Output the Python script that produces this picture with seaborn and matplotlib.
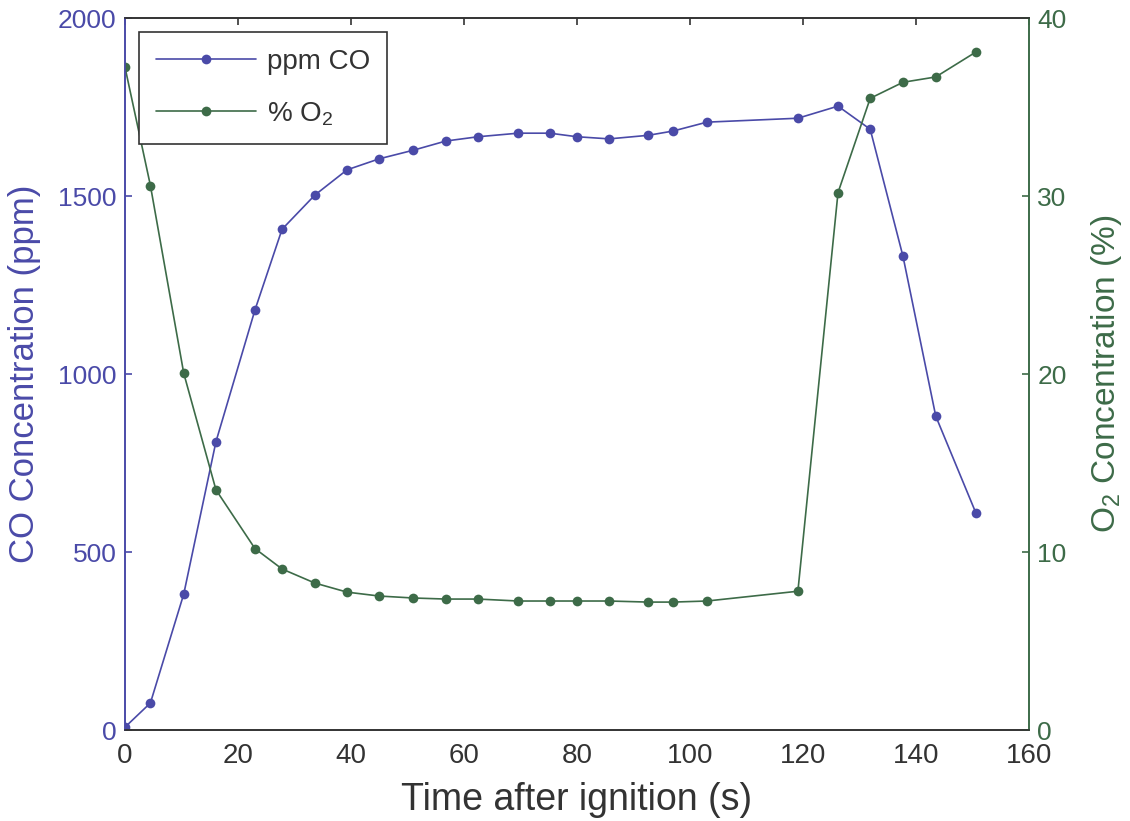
import matplotlib
matplotlib.use('Agg')
import matplotlib.pyplot as plt
import seaborn as sns
import pandas as pd

# data
time_s = [0, 4.5, 10.4, 16.1, 23.0, 27.8, 33.6, 39.3, 45.0, 51.0, 56.8, 62.5,
          69.6, 75.2, 80.0, 85.7, 92.6, 97.0, 103.0, 119.1, 126.2, 131.9,
          137.7, 143.5, 150.6]
co_ppm = [8, 76, 382, 810, 1180, 1407, 1503, 1574, 1605, 1629, 1655, 1667,
          1677, 1677, 1667, 1661, 1671, 1683, 1708, 1719, 1753, 1688,
          1331, 882, 610]
o2_pct = [37.25, 30.6, 20.05, 13.5, 10.2, 9.05, 8.26, 7.75, 7.53, 7.42, 7.36,
          7.36, 7.25, 7.25, 7.25, 7.25, 7.19, 7.19, 7.25, 7.8, 30.2, 35.5,
          36.4, 36.7, 38.1]

x_ticks = [0, 20, 40, 60, 80, 100, 120, 140, 160]
co_ticks = [0, 500, 1000, 1500, 2000]
o2_ticks = [0, 10, 20, 30, 40]

df = pd.DataFrame({'t': time_s, 'co': co_ppm, 'o2': o2_pct})

blue = '#4a4aa8'
green = '#3d6b48'
dark = '#333333'

sns.set_style('white')
plt.rcParams['font.family'] = ['Liberation Sans', 'DejaVu Sans']
plt.rcParams['mathtext.default'] = 'regular'

fig = plt.figure(figsize=(11.3, 8.21), dpi=100)
ax1 = fig.add_axes([0.1106, 0.1108, 0.8, 0.867])
ax2 = ax1.twinx()

sns.lineplot(data=df, x='t', y='co', ax=ax1, color=blue, marker='o',
             markersize=7, linewidth=1.2, markeredgewidth=0, label='ppm CO',
             legend=False)
sns.lineplot(data=df, x='t', y='o2', ax=ax2, color=green, marker='o',
             markersize=7, linewidth=1.2, markeredgewidth=0, label='% O$_2$',
             legend=False)

ax1.set_xlim(0, 160)
ax1.set_ylim(0, 2000)
ax2.set_ylim(0, 40)
ax1.set_xticks(x_ticks)
ax1.set_yticks(co_ticks)
ax2.set_yticks(o2_ticks)

ax1.tick_params(axis='x', direction='in', length=5, width=1.2, top=True,
                labelsize=20, labelcolor=dark, color=dark, pad=9)
ax1.tick_params(axis='y', direction='in', length=5, width=1.2,
                labelsize=19, labelcolor=blue, color=blue, pad=6)
ax2.tick_params(axis='y', direction='in', length=5, width=1.2,
                labelsize=19, labelcolor=green, color=green, pad=6)

for ax in (ax1, ax2):
    for s in ax.spines.values():
        s.set_linewidth(1.2)
        s.set_color(dark)
    ax.spines['left'].set_color(blue)
    ax.spines['right'].set_color(green)

ax1.set_xlabel('Time after ignition (s)', fontsize=27, color=dark, labelpad=10)
ax1.set_ylabel('CO Concentration (ppm)', fontsize=25, color=blue, labelpad=12)
ax2.set_ylabel('O$_2$ Concentration (%)', fontsize=24, color=green, labelpad=16)

h1, l1 = ax1.get_legend_handles_labels()
h2, l2 = ax2.get_legend_handles_labels()
leg = ax2.legend(h1 + h2, l1 + l2, loc='upper left', bbox_to_anchor=(0.016, 0.98),
                 fontsize=20, frameon=True, fancybox=False, framealpha=1,
                 edgecolor=dark, handlelength=3.6, handletextpad=0.4,
                 borderpad=0.6, labelspacing=0.9, borderaxespad=0)
leg.get_frame().set_linewidth(1.2)
for t in leg.get_texts():
    t.set_color(dark)

fig.savefig('out.png', dpi=100, facecolor='white')
